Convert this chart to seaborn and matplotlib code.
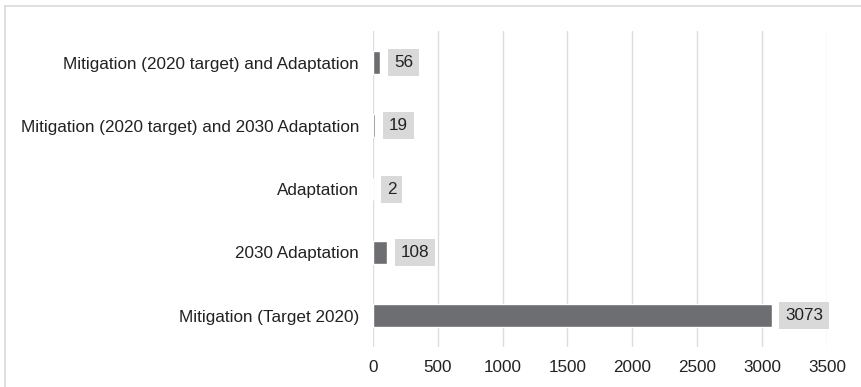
import matplotlib
matplotlib.use("Agg")
import matplotlib.pyplot as plt
import seaborn as sns
import pandas as pd
from matplotlib.lines import Line2D

categories = [
    "Mitigation (2020 target) and Adaptation",
    "Mitigation (2020 target) and 2030 Adaptation",
    "Adaptation",
    "2030 Adaptation",
    "Mitigation (Target 2020)",
]
values = [56, 19, 2, 108, 3073]
x_ticks = [0, 500, 1000, 1500, 2000, 2500, 3000, 3500]

sns.set_theme(style="white")
plt.rcParams["font.family"] = ["Liberation Sans", "DejaVu Sans"]

df = pd.DataFrame({"category": categories, "value": values})

fig = plt.figure(figsize=(8.61, 3.87), dpi=100)
ax = fig.add_axes([0.433, 0.103, 0.5275, 0.817])

sns.barplot(data=df, y="category", x="value", orient="h", color="#6d6e71",
            saturation=1, width=0.36, ax=ax)

FS = 12.3
ax.set_xlim(0, 3500)
ax.set_xticks(x_ticks)
ax.set_xticklabels([str(t) for t in x_ticks], fontsize=FS, color="#222222")
ax.tick_params(axis="y", labelsize=FS, labelcolor="#222222", length=0, pad=10)
ax.tick_params(axis="x", length=0, pad=9)
ax.set_xlabel("")
ax.set_ylabel("")
ax.xaxis.grid(True, color="#dcdcdc", linewidth=1)
ax.set_axisbelow(True)
for s in ax.spines.values():
    s.set_visible(False)

for i, v in enumerate(values):
    ax.annotate(str(v), xy=(v, i), xytext=(10, 0), textcoords="offset points",
                va="center", ha="left", fontsize=FS, color="#222222",
                bbox=dict(boxstyle="square,pad=0.35", fc="#d9d9d9", ec="none"))

# figure frame (top and left)
fig.add_artist(Line2D([5/861, 1], [1 - 6/387, 1 - 6/387], transform=fig.transFigure,
                      color="#d9d9d9", linewidth=1.2))
fig.add_artist(Line2D([5/861, 5/861], [0, 1 - 6/387], transform=fig.transFigure,
                      color="#d9d9d9", linewidth=1.2))

fig.savefig("out.png", dpi=100)
